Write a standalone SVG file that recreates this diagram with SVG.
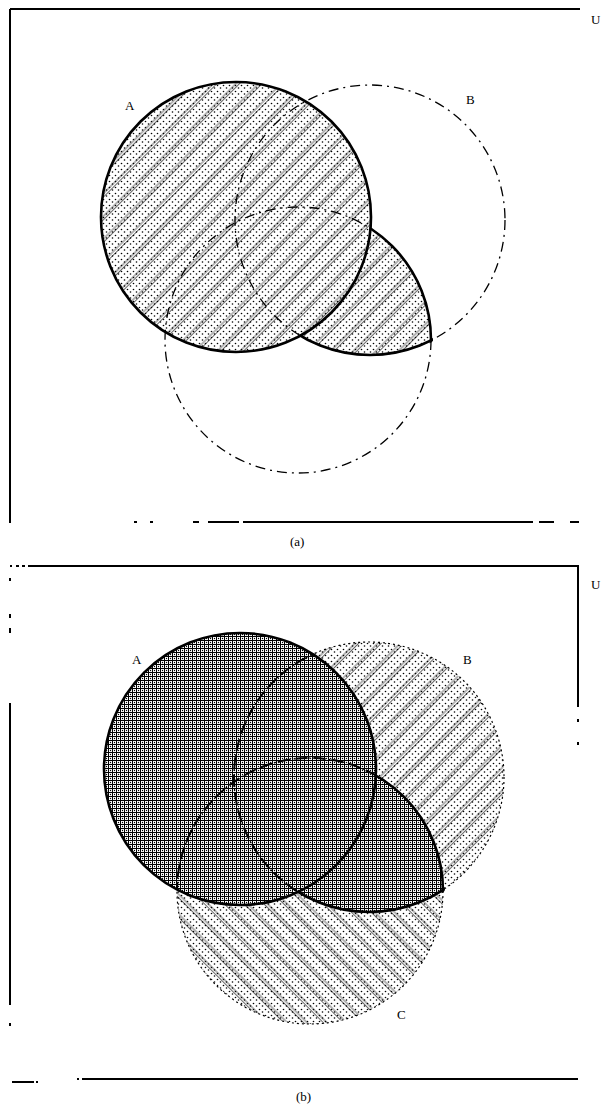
<svg xmlns="http://www.w3.org/2000/svg" width="604" height="1108" viewBox="0 0 604 1108">
<style>
.frame{fill:none;stroke:#000;stroke-width:2}
.thick{fill:none;stroke:#000;stroke-width:2.6}
.dashc{fill:none;stroke:#000;stroke-width:1.3;stroke-dasharray:10 5 2 5}
.dotc{fill:none;stroke:#000;stroke-width:1.2;stroke-dasharray:2 3}
.inner{fill:none;stroke:#000;stroke-width:2;stroke-dasharray:12 6}
.lbl{font-family:"Liberation Serif",serif;font-size:13px;fill:#000}
</style>
<defs>
<pattern id="dots" width="6" height="6" patternUnits="userSpaceOnUse">
<circle cx="1.5" cy="1.5" r="0.8" fill="#000"/><circle cx="4.5" cy="4" r="0.8" fill="#000"/>
</pattern>
<pattern id="hatchR" width="16" height="16" patternUnits="userSpaceOnUse" patternTransform="rotate(-45)">
<line x1="0" y1="2" x2="16" y2="2" stroke="#000" stroke-width="0.6"/><line x1="0" y1="4.5" x2="16" y2="4.5" stroke="#000" stroke-width="0.6"/>
</pattern>
<pattern id="hatchL" width="14" height="14" patternUnits="userSpaceOnUse" patternTransform="rotate(45)">
<line x1="0" y1="2" x2="14" y2="2" stroke="#000" stroke-width="0.6"/><line x1="0" y1="4.5" x2="14" y2="4.5" stroke="#000" stroke-width="0.6"/>
</pattern>
<pattern id="cross" width="4" height="4" patternUnits="userSpaceOnUse">
<rect width="4" height="4" fill="#fff"/>
<path d="M0 0.5H4M0.5 0V4" stroke="#000" stroke-width="1"/><circle cx="2.5" cy="2.5" r="0.7" fill="#000"/>
</pattern>
<clipPath id="clipB1"><circle cx="370" cy="220" r="135"/></clipPath>
<clipPath id="clipB2"><circle cx="369" cy="777" r="135"/></clipPath>
<mask id="u1" maskUnits="userSpaceOnUse" x="0" y="0" width="604" height="560">
<circle cx="236" cy="217" r="135" fill="#fff"/>
<circle cx="298" cy="340" r="133" fill="#fff" clip-path="url(#clipB1)"/>
</mask>
<mask id="u2" maskUnits="userSpaceOnUse" x="0" y="560" width="604" height="548">
<circle cx="240" cy="769" r="136" fill="#fff"/>
<circle cx="310" cy="891" r="133" fill="#fff" clip-path="url(#clipB2)"/>
</mask>
<mask id="m1C" maskUnits="userSpaceOnUse" x="0" y="0" width="604" height="560">
<rect width="604" height="560" fill="#000"/><circle cx="370" cy="220" r="137" fill="#fff"/><circle cx="236" cy="217" r="134" fill="#000"/>
</mask>
<mask id="m1B" maskUnits="userSpaceOnUse" x="0" y="0" width="604" height="560">
<rect width="604" height="560" fill="#000"/><circle cx="298" cy="340" r="135" fill="#fff"/><circle cx="236" cy="217" r="134" fill="#000"/>
</mask>
<mask id="m2C" maskUnits="userSpaceOnUse" x="0" y="560" width="604" height="548">
<rect y="560" width="604" height="548" fill="#000"/><circle cx="369" cy="777" r="137" fill="#fff"/><circle cx="240" cy="769" r="135" fill="#000"/>
</mask>
<mask id="m2B" maskUnits="userSpaceOnUse" x="0" y="560" width="604" height="548">
<rect y="560" width="604" height="548" fill="#000"/><circle cx="310" cy="891" r="135" fill="#fff"/><circle cx="240" cy="769" r="135" fill="#000"/>
</mask>
</defs>
<rect width="604" height="1108" fill="#fff"/>

<g id="panel-a">
<g id="frame-a">
<path class="frame" d="M10 9H580M10 9V523"/>
<path class="frame" d="M134 522h3M150 522h3M193 522h6M208 522h31M243 522h290M539 522h15M570 522h9"/>
</g>
<g id="a-fill" mask="url(#u1)">
<rect x="90" y="70" width="360" height="300" fill="url(#dots)"/>
<rect x="90" y="70" width="360" height="300" fill="url(#hatchR)"/>
</g>
<g id="a-circleB"><circle class="dashc" cx="370" cy="220" r="135"/></g>
<g id="a-circleC"><circle class="dashc" cx="298" cy="340" r="133"/></g>
<g id="a-circleA"><circle class="thick" cx="236" cy="217" r="135"/></g>
<g id="a-outline">
<circle class="thick" cx="298" cy="340" r="133" mask="url(#m1C)"/>
<circle class="thick" cx="370" cy="220" r="135" mask="url(#m1B)"/>
</g>
<g id="a-labels">
<text class="lbl" x="125" y="110">A</text>
<text class="lbl" x="466" y="104">B</text>
<text class="lbl" x="591" y="24">U</text>
<text class="lbl" x="290" y="546">(a)</text>
</g>
</g>

<g id="panel-b">
<g id="frame-b">
<path class="frame" d="M10 566h2M16 566h3M22 566h3M28 566H578V707M578 719v3M578 742v3"/>
<path class="frame" d="M10 578v3M10 614v4M10 628v5M10 703V1005M10 1023v3"/>
<path class="frame" d="M12 1082h22M36 1082h2M77 1079h2M82 1079H578"/>
</g>
<g id="b-fill-light">
<circle cx="369" cy="777" r="135" fill="url(#dots)"/>
<circle cx="310" cy="891" r="133" fill="url(#dots)"/>
<circle cx="369" cy="777" r="135" fill="url(#hatchR)"/>
<circle cx="310" cy="891" r="133" fill="url(#hatchL)"/>
</g>
<g id="b-fill-dark" mask="url(#u2)">
<rect x="90" y="620" width="370" height="300" fill="url(#cross)"/>
</g>
<g id="b-circleB"><circle class="dotc" cx="369" cy="777" r="135"/></g>
<g id="b-circleC"><circle class="dotc" cx="310" cy="891" r="133"/></g>
<g id="b-inner" mask="url(#u2)">
<circle class="inner" cx="369" cy="777" r="135"/>
<circle class="inner" cx="310" cy="891" r="133"/>
</g>
<g id="b-circleA"><circle class="thick" cx="240" cy="769" r="136"/></g>
<g id="b-outline">
<circle class="thick" cx="310" cy="891" r="133" mask="url(#m2C)"/>
<circle class="thick" cx="369" cy="777" r="135" mask="url(#m2B)"/>
</g>
<g id="b-labels">
<text class="lbl" x="132" y="664">A</text>
<text class="lbl" x="463" y="664">B</text>
<text class="lbl" x="397" y="1019">C</text>
<text class="lbl" x="591" y="589">U</text>
<text class="lbl" x="296" y="1101">(b)</text>
</g>
</g>
</svg>
